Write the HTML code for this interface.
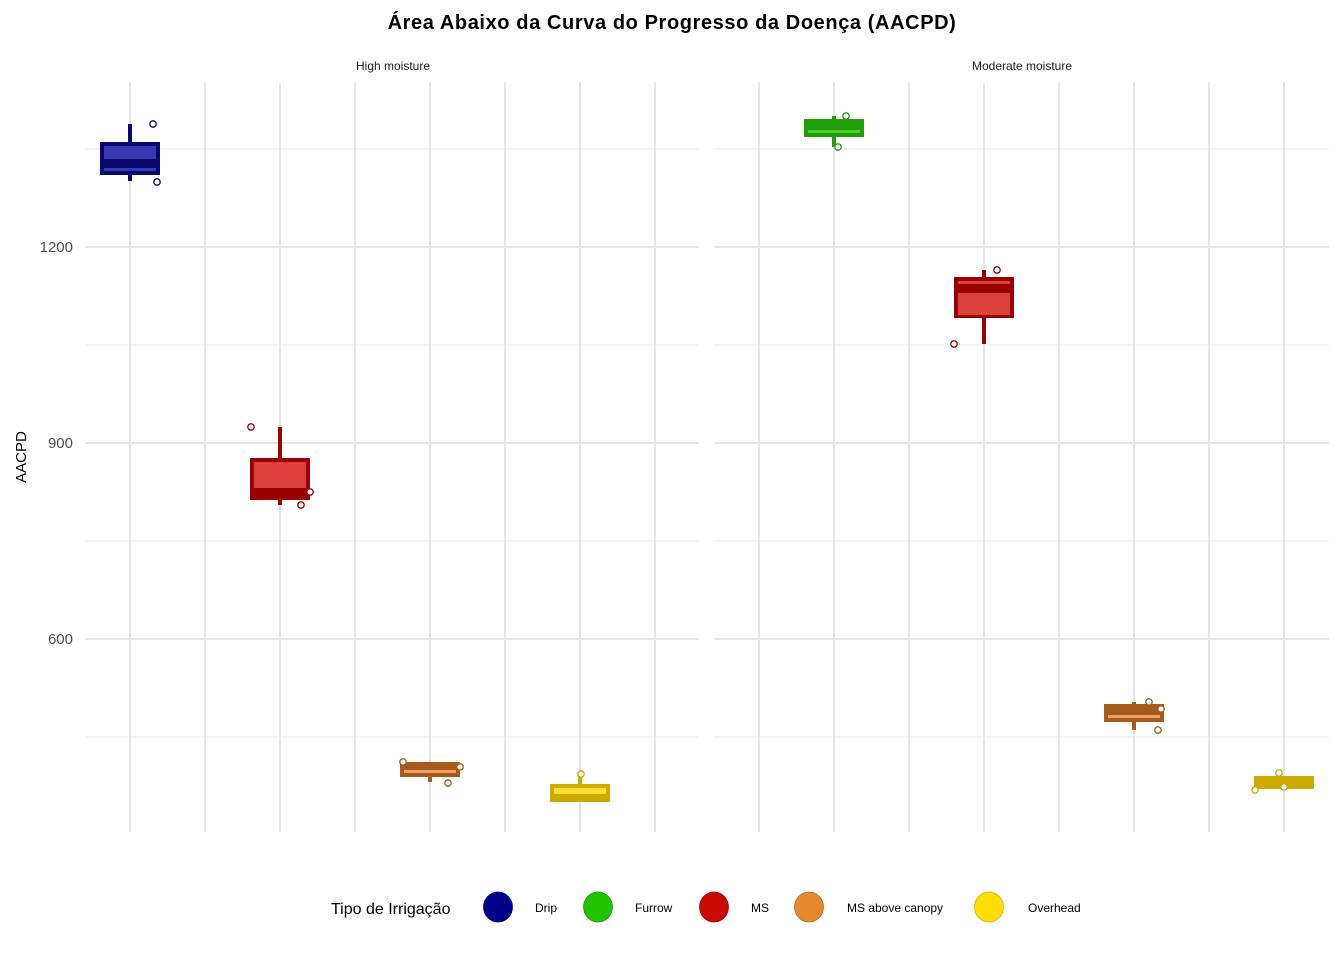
<!DOCTYPE html>
<html><head><meta charset="utf-8"><style>body{margin:0;background:#fff}svg{display:block}text{font-family:"Liberation Sans",sans-serif}</style></head>
<body>
<svg width="1344" height="960" viewBox="0 0 1344 960" xmlns="http://www.w3.org/2000/svg">
<rect width="1344" height="960" fill="#fff"/>
<text x="672" y="29" text-anchor="middle" font-size="20" font-weight="bold" letter-spacing="0.6" fill="#000">Área Abaixo da Curva do Progresso da Doença (AACPD)</text>
<text x="393" y="70" text-anchor="middle" font-size="12" fill="#1a1a1a">High moisture</text>
<text x="1022" y="70" text-anchor="middle" font-size="12" fill="#1a1a1a">Moderate moisture</text>
<g stroke="#ebebeb" stroke-width="1">
<line x1="85" x2="699" y1="149" y2="149"/><line x1="85" x2="699" y1="345" y2="345"/><line x1="85" x2="699" y1="541" y2="541"/><line x1="85" x2="699" y1="737" y2="737"/>
<line x1="714" x2="1329" y1="149" y2="149"/><line x1="714" x2="1329" y1="345" y2="345"/><line x1="714" x2="1329" y1="541" y2="541"/><line x1="714" x2="1329" y1="737" y2="737"/>
</g>
<g stroke="#e6e6e6" stroke-width="2">
<line x1="85" x2="699" y1="247" y2="247"/><line x1="85" x2="699" y1="443" y2="443"/><line x1="85" x2="699" y1="639" y2="639"/>
<line x1="714" x2="1329" y1="247" y2="247"/><line x1="714" x2="1329" y1="443" y2="443"/><line x1="714" x2="1329" y1="639" y2="639"/>
<line x1="130" x2="130" y1="82" y2="832"/><line x1="205" x2="205" y1="82" y2="832"/><line x1="280" x2="280" y1="82" y2="832"/><line x1="355" x2="355" y1="82" y2="832"/><line x1="430" x2="430" y1="82" y2="832"/><line x1="505" x2="505" y1="82" y2="832"/><line x1="580" x2="580" y1="82" y2="832"/><line x1="655" x2="655" y1="82" y2="832"/>
<line x1="759" x2="759" y1="82" y2="832"/><line x1="834" x2="834" y1="82" y2="832"/><line x1="909" x2="909" y1="82" y2="832"/><line x1="984" x2="984" y1="82" y2="832"/><line x1="1059" x2="1059" y1="82" y2="832"/><line x1="1134" x2="1134" y1="82" y2="832"/><line x1="1209" x2="1209" y1="82" y2="832"/><line x1="1284" x2="1284" y1="82" y2="832"/>
</g>
<g font-size="15" fill="#4d4d4d" text-anchor="end">
<text x="73" y="252">1200</text><text x="73" y="448">900</text><text x="73" y="644">600</text>
</g>
<text transform="translate(26,457) rotate(-90)" text-anchor="middle" font-size="15" fill="#000">AACPD</text>

<line x1="130" x2="130" y1="124" y2="181" stroke="#080870" stroke-width="4"/>
<rect x="100" y="142" width="60" height="33" fill="#080870"/>
<rect x="104" y="146" width="52" height="13" fill="#3a3ab0"/>
<rect x="104" y="168" width="52" height="3" fill="#3a3ab0"/>
<g fill="#fff" stroke="#080870" stroke-width="1.3"><circle cx="153" cy="124" r="3.2"/><circle cx="157" cy="182" r="3.2"/></g>

<line x1="280" x2="280" y1="427" y2="505" stroke="#990000" stroke-width="4"/>
<rect x="250" y="458" width="60" height="42" fill="#990000"/>
<rect x="254" y="462" width="52" height="26" fill="#d9413a"/>
<g fill="#fff" stroke="#990000" stroke-width="1.3"><circle cx="251" cy="427" r="3.2"/><circle cx="301" cy="505" r="3.2"/><circle cx="310" cy="492" r="3.2"/></g>

<line x1="430" x2="430" y1="762" y2="782" stroke="#a65a1e" stroke-width="4"/>
<rect x="400" y="762" width="60" height="15" fill="#a65a1e"/>
<rect x="404" y="770" width="52" height="3" fill="#e8a060"/>
<g fill="#fff" stroke="#a65a1e" stroke-width="1.3"><circle cx="403" cy="762" r="3.2"/><circle cx="448" cy="783" r="3.2"/><circle cx="460" cy="767" r="3.2"/></g>

<line x1="580" x2="580" y1="773" y2="785" stroke="#ccaa00" stroke-width="4"/>
<rect x="550" y="784" width="60" height="18" fill="#ccaa00"/>
<rect x="554" y="788" width="52" height="6" fill="#ffe033"/>
<g fill="#fff" stroke="#ccaa00" stroke-width="1.3"><circle cx="581" cy="774" r="3.2"/></g>

<line x1="834" x2="834" y1="116" y2="147" stroke="#1f9e0a" stroke-width="4"/>
<rect x="804" y="119" width="60" height="18" fill="#1f9e0a"/>
<rect x="808" y="130" width="52" height="3" fill="#4cd030"/>
<g fill="#fff" stroke="#1f9e0a" stroke-width="1.3"><circle cx="846" cy="116" r="3.2"/><circle cx="838" cy="147" r="3.2"/></g>

<line x1="984" x2="984" y1="270" y2="344" stroke="#990000" stroke-width="4"/>
<rect x="954" y="277" width="60" height="41" fill="#990000"/>
<rect x="958" y="281" width="52" height="3" fill="#d9413a"/>
<rect x="958" y="293" width="52" height="22" fill="#d9413a"/>
<g fill="#fff" stroke="#990000" stroke-width="1.3"><circle cx="997" cy="270" r="3.2"/><circle cx="954" cy="344" r="3.2"/></g>

<line x1="1134" x2="1134" y1="702" y2="730" stroke="#a65a1e" stroke-width="4"/>
<rect x="1104" y="704" width="60" height="18" fill="#a65a1e"/>
<rect x="1108" y="715" width="52" height="3" fill="#e8a060"/>
<g fill="#fff" stroke="#a65a1e" stroke-width="1.3"><circle cx="1149" cy="702" r="3.2"/><circle cx="1158" cy="730" r="3.2"/><circle cx="1161" cy="709" r="3.2"/></g>

<rect x="1254" y="776" width="60" height="13" fill="#ccaa00"/>
<g fill="#fff" stroke="#ccaa00" stroke-width="1.3"><circle cx="1279" cy="773" r="3.2"/><circle cx="1255" cy="790" r="3.2"/><circle cx="1284" cy="787" r="3.2"/></g>

<text x="331" y="914" font-size="16" fill="#000">Tipo de Irrigação</text>
<g stroke-width="0.8">
<ellipse cx="498" cy="907" rx="14.5" ry="15" fill="#00008b" stroke="#00006a"/>
<ellipse cx="598" cy="907" rx="14.5" ry="15" fill="#22c400" stroke="#1a9a00"/>
<ellipse cx="714" cy="907" rx="14.5" ry="15" fill="#c80a00" stroke="#a00800"/>
<ellipse cx="809" cy="907" rx="14.5" ry="15" fill="#e5892e" stroke="#b56a20"/>
<ellipse cx="989" cy="907" rx="14.5" ry="15" fill="#ffdd00" stroke="#ccb000"/>
</g>
<g font-size="12" fill="#000">
<text x="535" y="912">Drip</text><text x="635" y="912">Furrow</text><text x="751" y="912">MS</text><text x="847" y="912">MS above canopy</text><text x="1028" y="912">Overhead</text>
</g>
</svg>
</body></html>
